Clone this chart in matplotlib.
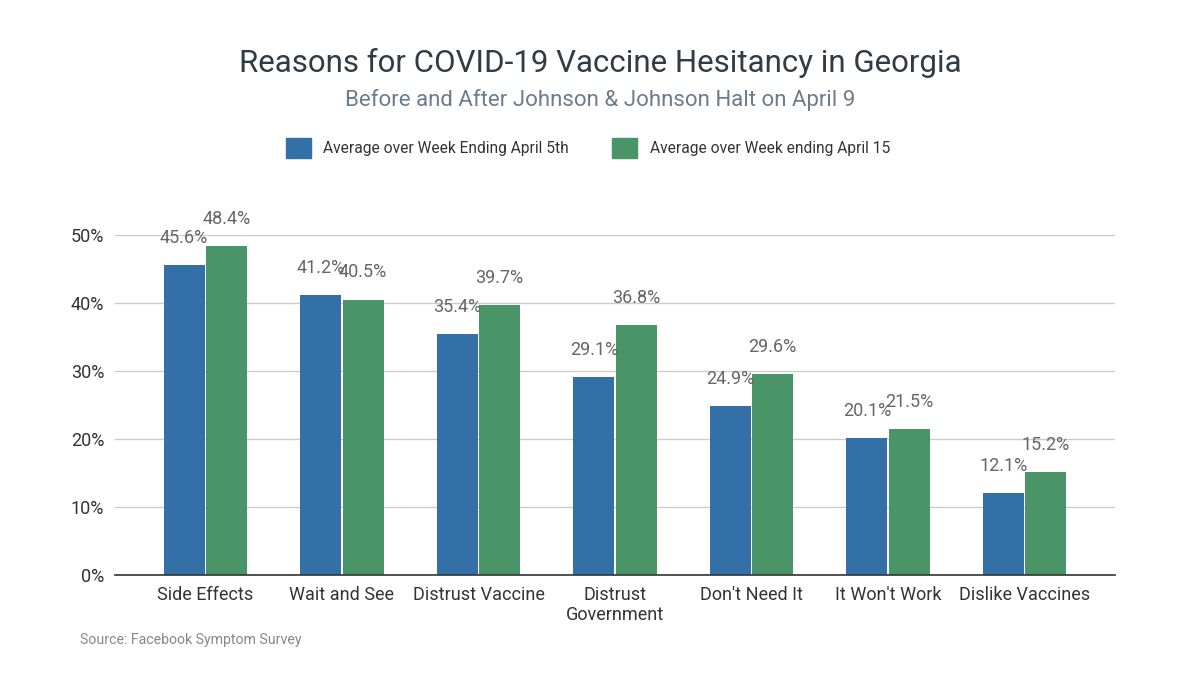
import numpy as np
import matplotlib.pyplot as plt
from matplotlib.patches import Patch

categories = ["Side Effects", "Wait and See", "Distrust Vaccine", "Distrust\nGovernment",
              "Don't Need It", "It Won't Work", "Dislike Vaccines"]
week_apr5 = [45.6, 41.2, 35.4, 29.1, 24.9, 20.1, 12.1]
week_apr15 = [48.4, 40.5, 39.7, 36.8, 29.6, 21.5, 15.2]
series_names = ["Average over Week Ending April 5th", "Average over Week ending April 15"]
yticks = [0, 10, 20, 30, 40, 50]

blue = "#3470a8"
green = "#4a9567"
plt.rcParams['font.family'] = ['Roboto', 'DejaVu Sans']

fig = plt.figure(figsize=(12, 6.75), dpi=100)
ax = fig.add_axes([0.096, 0.148, 0.833, 0.504])

x = np.arange(len(categories))
w = 0.3
off = 0.155
b1 = ax.bar(x - off, week_apr5, w, color=blue, zorder=3)
b2 = ax.bar(x + off, week_apr15, w, color=green, zorder=3)

for bars, vals in [(b1, week_apr5), (b2, week_apr15)]:
    for b, v in zip(bars, vals):
        ax.annotate(f"{v}%", (b.get_x() + b.get_width() / 2, v), xytext=(0, 13),
                    textcoords="offset points", ha="center", va="bottom",
                    fontsize=13, color="#666666", clip_on=False)

ax.set_xlim(-0.66, 6.66)
ax.set_ylim(0, 50)
ax.set_yticks(yticks)
ax.set_yticklabels([f"{t}%" for t in yticks], fontsize=13, color="#333333")
ax.set_xticks(x)
ax.set_xticklabels(categories, fontsize=13, color="#333333", linespacing=1.15)
ax.tick_params(length=0, pad=8)
ax.grid(axis="y", color="#cccccc", linewidth=1, zorder=0)
for s in ["top", "right", "left"]:
    ax.spines[s].set_visible(False)
ax.spines["bottom"].set_color("#333333")
ax.spines["bottom"].set_linewidth(1.2)
ax.spines["bottom"].set_zorder(4)

fig.text(0.5, 0.907, "Reasons for COVID-19 Vaccine Hesitancy in Georgia", ha="center", va="center",
         fontsize=22.5, color="#2f3b45")
fig.text(0.5, 0.852, "Before and After Johnson & Johnson Halt on April 9", ha="center", va="center",
         fontsize=16, color="#6b7d8c")
fig.legend(handles=[Patch(color=blue), Patch(color=green)], labels=series_names,
           loc="center", bbox_to_anchor=(0.49, 0.781), ncol=2, frameon=False,
           fontsize=11.2, handlelength=1.6, handleheight=1.6, columnspacing=2.8,
           labelcolor="#333333")
fig.text(0.067, 0.052, "Source: Facebook Symptom Survey", ha="left", va="center",
         fontsize=10.2, color="#888888")

fig.savefig("out.png", dpi=100)
